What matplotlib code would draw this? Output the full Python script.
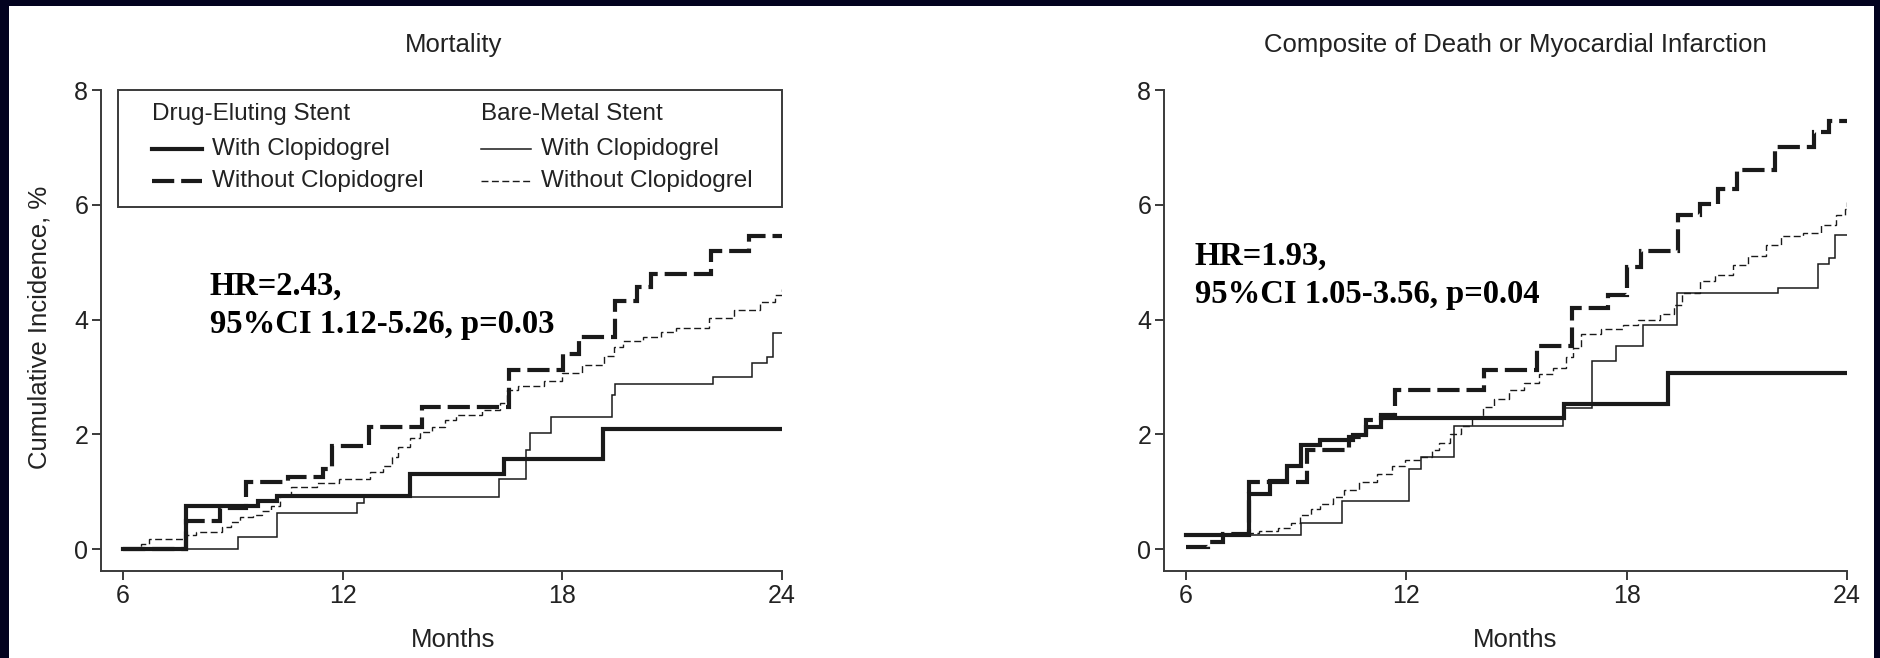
import matplotlib
matplotlib.use("Agg")
import matplotlib.pyplot as plt
from matplotlib.patches import Rectangle

plt.rcParams["font.family"] = ["Liberation Sans", "DejaVu Sans"]
plt.rcParams["lines.scale_dashes"] = False
FS = 18.5

# ---- data (months, cumulative incidence %) ----
months_ticks = [6, 12, 18, 24]
pct_ticks = [0, 2, 4, 6, 8]

# Mortality
mort_des_with_t = [6, 7.72, 9.7, 10.2, 13.84, 16.42, 19.1, 24]
mort_des_with_y = [0, 0.75, 0.84, 0.93, 1.3, 1.57, 2.09, 2.09]
mort_des_wo_t = [6, 7.72, 8.65, 9.35, 10.5, 11.45, 11.7, 12.72, 14.17, 16.53, 18.03, 18.45,
                 19.43, 20.03, 20.41, 22.05, 23.11, 24]
mort_des_wo_y = [0, 0.48, 0.71, 1.17, 1.26, 1.40, 1.80, 2.13, 2.47, 3.12, 3.40, 3.70,
                 4.33, 4.57, 4.79, 5.19, 5.45, 5.45]
mort_bms_with_t = [6, 9.14, 10.2, 12.38, 12.57, 16.27, 17.0, 17.12, 17.7, 19.37, 19.45, 22.12,
                   23.19, 23.6, 23.76, 24]
mort_bms_with_y = [0, 0.21, 0.63, 0.80, 0.91, 1.22, 1.73, 2.03, 2.3, 2.68, 2.87, 2.99,
                   3.24, 3.34, 3.77, 3.77]
mort_bms_wo_t = [6, 6.5, 6.7, 7.7, 8.0, 8.7, 8.95, 9.2, 9.55, 9.8, 10.05, 10.3, 10.6, 11.3, 11.9,
                 12.75, 13.1, 13.35, 13.5, 13.85, 14.1, 14.45, 14.8, 15.1, 15.8, 16.3, 16.5, 16.8,
                 17.5, 18.0, 18.55, 19.15, 19.4, 19.65, 20.2, 20.7, 21.1, 22.0, 22.7, 23.4, 23.8, 24]
mort_bms_wo_y = [0, 0.08, 0.17, 0.24, 0.3, 0.39, 0.47, 0.55, 0.6, 0.66, 0.75, 0.95, 1.08, 1.15, 1.22,
                 1.35, 1.45, 1.6, 1.78, 1.93, 2.04, 2.12, 2.25, 2.33, 2.42, 2.55, 2.77, 2.84,
                 2.93, 3.06, 3.2, 3.36, 3.52, 3.63, 3.7, 3.79, 3.86, 4.02, 4.16, 4.3, 4.42, 4.54]

# Composite of death or MI
comp_des_with_t = [6, 7.72, 8.3, 8.75, 9.13, 9.66, 10.55, 10.9, 11.3, 16.28, 19.12, 24]
comp_des_with_y = [0.24, 0.96, 1.18, 1.45, 1.82, 1.9, 1.99, 2.12, 2.28, 2.52, 3.07, 3.07]
comp_des_wo_t = [6, 6.6, 7.0, 7.72, 9.3, 10.45, 10.9, 11.3, 11.7, 14.12, 15.57, 16.5, 17.5, 18.0,
                 18.4, 19.4, 20.0, 20.5, 21.0, 22.03, 23.1, 23.5, 24]
comp_des_wo_y = [0.04, 0.13, 0.26, 1.17, 1.72, 1.95, 2.25, 2.33, 2.77, 3.12, 3.53, 4.2, 4.42, 4.92,
                 5.2, 5.82, 6.02, 6.27, 6.6, 7.0, 7.26, 7.46, 7.46]
comp_bms_with_t = [6, 9.12, 10.24, 12.07, 12.4, 13.3, 16.27, 17.05, 17.7, 18.44, 19.38, 22.13,
                   23.2, 23.5, 23.67, 24]
comp_bms_with_y = [0.24, 0.45, 0.83, 1.4, 1.6, 2.14, 2.45, 3.27, 3.53, 3.9, 4.46, 4.55,
                   4.96, 5.07, 5.47, 5.47]
comp_bms_wo_t = [6, 7.65, 8.0, 8.5, 8.85, 9.1, 9.4, 9.65, 10.0, 10.3, 10.7, 11.2, 11.6, 11.95, 12.4,
                 12.7, 12.9, 13.2, 13.5, 13.8, 14.1, 14.4, 14.8, 15.2, 15.6, 16.0, 16.35, 16.55,
                 16.75, 17.3, 17.9, 18.3, 18.9, 19.3, 19.5, 20.0, 20.4, 20.9, 21.3, 21.8, 22.2,
                 22.8, 23.3, 23.7, 23.95, 24]
comp_bms_wo_y = [0.24, 0.28, 0.32, 0.37, 0.45, 0.6, 0.7, 0.78, 0.9, 1.02, 1.16, 1.3, 1.45, 1.55, 1.6,
                 1.72, 1.85, 2.0, 2.15, 2.3, 2.48, 2.62, 2.78, 2.9, 3.05, 3.15, 3.35, 3.5,
                 3.75, 3.83, 3.9, 4.0, 4.1, 4.25, 4.47, 4.67, 4.78, 4.95, 5.1, 5.3, 5.45,
                 5.5, 5.65, 5.82, 5.92, 6.05]

titles = ["Mortality", "Composite of Death or Myocardial Infarction"]
hr_lines = [["HR=2.43,", "95%CI 1.12-5.26, p=0.03"],
            ["HR=1.93,", "95%CI 1.05-3.56, p=0.04"]]
legend_headers = ["Drug-Eluting Stent", "Bare-Metal Stent"]
legend_labels = ["With Clopidogrel", "Without Clopidogrel"]

# ---- styles ----
INK = "#1a1a1a"
AX = "#3a3a3a"
TXT = "#222222"
STY = {
    "des_with": dict(color=INK, lw=3.0, ls="-"),
    "des_wo": dict(color=INK, lw=3.0, ls=(0, (16, 5))),
    "bms_with": dict(color=INK, lw=1.1, ls="-"),
    "bms_wo": dict(color=INK, lw=1.0, ls=(0, (5, 2.5))),
}

W, H = 1881, 658
fig = plt.figure(figsize=(W / 100, H / 100), dpi=100, facecolor="#03031f")
fig.patches.append(Rectangle((9 / W, 0), (1874 - 9) / W, 1 - 6 / H, transform=fig.transFigure,
                             facecolor="white", edgecolor="none", zorder=-10))


def px_axes(x0, x1, y_top=90, y_bot=571):
    return fig.add_axes([x0 / W, 1 - y_bot / H, (x1 - x0) / W, (y_bot - y_top) / H])


ax1 = px_axes(101, 782)
ax2 = px_axes(1164, 1847)

series = [
    [(mort_des_with_t, mort_des_with_y, "des_with"), (mort_des_wo_t, mort_des_wo_y, "des_wo"),
     (mort_bms_with_t, mort_bms_with_y, "bms_with"), (mort_bms_wo_t, mort_bms_wo_y, "bms_wo")],
    [(comp_des_with_t, comp_des_with_y, "des_with"), (comp_des_wo_t, comp_des_wo_y, "des_wo"),
     (comp_bms_with_t, comp_bms_with_y, "bms_with"), (comp_bms_wo_t, comp_bms_wo_y, "bms_wo")],
]

title_x = [0.517, 0.514]
hr_pos = [(0.160, 0.574, 0.495), (0.045, 0.636, 0.557)]

for i, ax in enumerate([ax1, ax2]):
    for t, y, key in series[i]:
        ax.step(t, y, where="post", solid_joinstyle="miter", dash_joinstyle="miter", **STY[key])
    ax.set_xlim(5.4, 24)
    ax.set_ylim(-0.383, 8)
    ax.set_xticks(months_ticks)
    ax.set_yticks(pct_ticks)
    for s in ["top", "right"]:
        ax.spines[s].set_visible(False)
    for s in ["left", "bottom"]:
        ax.spines[s].set_linewidth(1.4)
        ax.spines[s].set_color(AX)
    ax.tick_params(direction="out", length=6.2, width=1.4, color=AX, labelsize=18,
                   labelcolor=TXT, pad=3)
    ax.text(title_x[i], 1.0935, titles[i], transform=ax.transAxes, ha="center", va="center",
            fontsize=FS, color=TXT)
    ax.text(title_x[i], -0.1435, "Months", transform=ax.transAxes, ha="center", va="center",
            fontsize=FS, color=TXT)
    hx, hy1, hy2 = hr_pos[i]
    for txt, yy in zip(hr_lines[i], [hy1, hy2]):
        ax.text(hx, yy, txt, transform=ax.transAxes, ha="left", va="baseline",
                fontsize=23.5, fontweight="bold", family="Liberation Serif", color="black")

ax1.text(-0.091, 0.507, "Cumulative Incidence, %", transform=ax1.transAxes, rotation=90,
         ha="center", va="center", fontsize=FS, color=TXT)

# legend box drawn by hand (two titled columns)
ax1.add_patch(Rectangle((0.025, 0.757), 0.975, 0.243, transform=ax1.transAxes, fill=False,
                        edgecolor=AX, lw=1.4, clip_on=False, zorder=5))
col_x = [0.075, 0.558]
row_y = [0.950, 0.877, 0.811]
keys = [["des_with", "des_wo"], ["bms_with", "bms_wo"]]
for c in range(2):
    ax1.text(col_x[c], row_y[0], legend_headers[c], transform=ax1.transAxes, ha="left",
             va="center", fontsize=17.5, color=TXT)
    for r in range(2):
        ax1.plot([col_x[c], col_x[c] + 0.073], [row_y[r + 1]] * 2, transform=ax1.transAxes,
                 clip_on=False, **STY[keys[c][r]])
        ax1.text(col_x[c] + 0.088, row_y[r + 1], legend_labels[r], transform=ax1.transAxes,
                 ha="left", va="center", fontsize=17.5, color=TXT)

fig.savefig("out.png", dpi=100, facecolor=fig.get_facecolor())
